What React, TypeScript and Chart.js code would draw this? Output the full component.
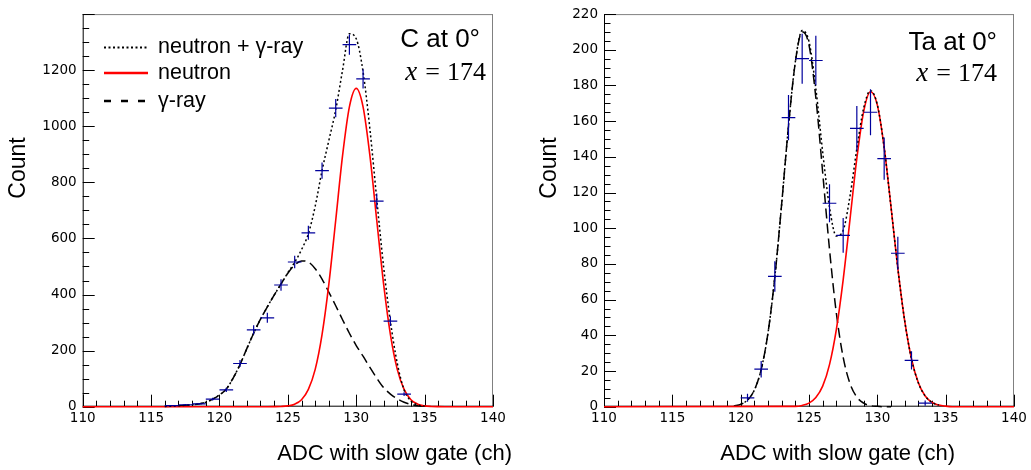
import React, { useEffect, useRef } from "react";
import { Chart, registerables } from "chart.js";
Chart.register(...registerables);

// ---------- data ----------
const X_MIN = 110;
const X_MAX = 140;

const legendLabels = ["neutron + γ-ray", "neutron", "γ-ray"];
const panelTitles = ["C at 0°", "Ta at 0°"];
const mathVar = "x";
const mathRest = ["174", "174"];
const xAxisTitle = "ADC with slow gate (ch)";
const yAxisTitle = "Count";

// Carbon target
const cBinCenters = [116.5, 117.5, 118.5, 119.5, 120.5, 121.5, 122.5, 123.5, 124.5, 125.5, 126.5, 127.5, 128.5, 129.5, 130.5, 131.5, 132.5, 133.5];
const cCounts = [4, 7, 10, 27, 60, 154, 274, 317, 434, 516, 620, 842, 1065, 1291, 1169, 733, 305, 45];

const cNeutronX = [110, 123.5, 124, 124.5, 125, 125.5, 126, 126.5, 127, 127.5, 128, 128.5, 129, 129.5, 130, 130.5, 131, 131.5, 132, 132.5, 133, 133.5, 134, 134.5, 135, 135.5, 136, 136.5, 140];
const cNeutronY = [0, 0, 0.2, 0.9, 3, 9, 25, 62, 133, 257, 438, 665, 895, 1069, 1135, 1069, 895, 665, 438, 257, 133, 62, 25, 9, 3, 0.9, 0.2, 0, 0];

const cGammaX = [116, 116.5, 117, 117.5, 118, 118.5, 119, 119.5, 120, 120.5, 121, 121.5, 122, 122.5, 123, 123.5, 124, 124.5, 125, 125.5, 126, 126.5, 127, 127.5, 128, 128.5, 129, 129.5, 130, 130.5, 131, 131.5, 132, 132.5, 133, 133.5, 134, 134.5, 135];
const cGammaY = [1, 2, 3, 5, 7, 10, 16, 27, 42, 63, 102, 150, 207, 262, 312, 356, 398, 438, 476, 505, 520, 516, 492, 455, 408, 360, 310, 262, 218, 180, 140, 102, 68, 45, 28, 16, 8, 3, 1];

const cSumX = cGammaX;
const cSumY = [1, 2, 3, 5, 7, 10, 16, 27, 42, 63, 102, 150, 207, 262, 312, 356, 398, 437, 478, 515, 560, 617, 715, 842, 950, 1058, 1200, 1330, 1312, 1194, 990, 740, 500, 304, 155, 60, 20, 6, 2];

// Tantalum target
const tBinCenters = [120.5, 121.5, 122.5, 123.5, 124.5, 125.5, 126.5, 127.5, 128.5, 129.5, 130.5, 131.5, 132.5, 133.5];
const tCounts = [5, 21, 73, 162, 195, 194, 114, 96, 156, 165, 139, 86, 26, 2];

const tNeutronX = [110, 124, 124.5, 125, 125.5, 126, 126.5, 127, 127.5, 128, 128.5, 129, 129.5, 130, 130.5, 131, 131.5, 132, 132.5, 133, 133.5, 134, 134.5, 135, 135.5, 140];
const tNeutronY = [0, 0.2, 0.7, 2.0, 5.1, 11.5, 23.6, 43.2, 71.1, 105.0, 139.1, 165.4, 176.5, 169.0, 145.3, 112.0, 77.5, 48.2, 26.8, 13.4, 6.0, 2.4, 0.9, 0.3, 0, 0];

const tGammaX = [119.5, 120, 120.5, 121, 121.5, 122, 122.5, 123, 123.5, 124, 124.5, 125, 125.5, 126, 126.5, 127, 127.5, 128, 128.5, 129, 129.5, 130, 130.5, 131];
const tGammaY = [0.4, 1.3, 3.7, 9.3, 20.8, 41.3, 72.7, 113.6, 157.3, 193.1, 210.1, 202.6, 173.2, 131.3, 88.2, 52.5, 27.7, 13.0, 5.4, 2.0, 0.6, 0.2, 0, 0];

const tSumX = [120, 120.5, 121, 121.5, 122, 122.5, 123, 123.5, 124, 124.5, 125, 125.5, 126, 126.5, 127, 127.5, 128, 128.5, 129, 129.5, 130, 130.5, 131, 131.5, 132, 132.5, 133, 133.5, 134, 134.5];
const tSumY = [1.3, 3.7, 9.3, 20.8, 41.3, 72.7, 113.6, 157.3, 193.3, 210.8, 204.6, 178.3, 142.8, 111.8, 95.7, 98.8, 118.0, 144.5, 167.4, 177.1, 169.2, 145.3, 112.0, 77.5, 48.2, 26.8, 13.4, 6.0, 2.4, 0.9];

// ---------- styles ----------
const SANS = "'Liberation Sans', Arial, sans-serif";
const SERIF = "'Liberation Serif', 'DejaVu Serif', serif";
const TICKFONT = "'DejaVu Sans', sans-serif";
const BLUE = "#00009c";
const RED = "#ff0000";
const DOT = [2, 2.5];
const DASH = [10, 5];

type PanelCfg = {
  id: string;
  canvasLeft: number;
  canvasWidth: number;
  plotLeft: number;
  plotRight: number;
  yMax: number;
  yStep: number;
  yMinor: number;
  bins: number[];
  counts: number[];
  nX: number[]; nY: number[];
  gX: number[]; gY: number[];
  sX: number[]; sY: number[];
  title: string;
  math: string;
  titleRight: number;
  titleBase: number;
  mathRight: number;
  mathBase: number;
  yTitleX: number;
  xTitleRight: number;
  legend: boolean;
};

const PLOT_TOP = 11.3;
const PLOT_BOTTOM = 406.7;
const H = 470;

const panels: PanelCfg[] = [
  {
    id: "c", canvasLeft: 0, canvasWidth: 515, plotLeft: 82.7, plotRight: 493,
    yMax: 1400, yStep: 200, yMinor: 50,
    bins: cBinCenters, counts: cCounts,
    nX: cNeutronX, nY: cNeutronY, gX: cGammaX, gY: cGammaY, sX: cSumX, sY: cSumY,
    title: panelTitles[0], math: mathRest[0],
    titleRight: 480, titleBase: 47, mathRight: 486, mathBase: 80,
    yTitleX: 17, xTitleRight: 512, legend: true,
  },
  {
    id: "t", canvasLeft: 515, canvasWidth: 516, plotLeft: 89, plotRight: 499,
    yMax: 220, yStep: 20, yMinor: 5,
    bins: tBinCenters, counts: tCounts,
    nX: tNeutronX, nY: tNeutronY, gX: tGammaX, gY: tGammaY, sX: tSumX, sY: tSumY,
    title: panelTitles[1], math: mathRest[1],
    titleRight: 482, titleBase: 50, mathRight: 482, mathBase: 81,
    yTitleX: 33, xTitleRight: 440, legend: false,
  },
];

function pts(xs: number[], ys: number[]) {
  return xs.map((x, i) => ({ x, y: ys[i] }));
}

function errorBarPoints(bins: number[], counts: number[]) {
  const out: { x: number; y: number | null }[] = [];
  bins.forEach((b, i) => {
    const c = counts[i];
    const e = Math.sqrt(c);
    out.push({ x: b - 0.5, y: c }, { x: b + 0.5, y: c }, { x: b + 0.5, y: null });
    out.push({ x: b, y: c - e }, { x: b, y: c + e }, { x: b, y: null });
  });
  return out;
}

function rootPlugin(p: PanelCfg) {
  return {
    id: "root_" + p.id,
    beforeDatasetsDraw(chart: any) {
      const { ctx, chartArea: a, scales } = chart;
      const xs = scales.x, ys = scales.y;
      ctx.save();
      ctx.lineWidth = 1;
      ctx.strokeStyle = "#808080";
      ctx.beginPath();
      ctx.moveTo(a.left, a.top + 0.5);
      ctx.lineTo(a.right, a.top + 0.5);
      ctx.moveTo(a.right - 0.5, a.top);
      ctx.lineTo(a.right - 0.5, a.bottom);
      ctx.stroke();
      ctx.strokeStyle = "#000";
      ctx.beginPath();
      ctx.moveTo(a.left + 0.5, a.top);
      ctx.lineTo(a.left + 0.5, a.bottom);
      ctx.moveTo(a.left, a.bottom - 0.5);
      ctx.lineTo(a.right, a.bottom - 0.5);
      // x ticks
      for (let v = X_MIN; v <= X_MAX + 1e-9; v += 1) {
        const px = Math.round(xs.getPixelForValue(v)) + 0.5;
        const len = v % 5 === 0 ? 12 : 6;
        ctx.moveTo(px, a.bottom);
        ctx.lineTo(px, a.bottom - len);
      }
      // y ticks
      for (let v = 0; v <= p.yMax + 1e-9; v += p.yMinor) {
        const py = Math.round(ys.getPixelForValue(v)) + 0.5;
        const len = v % p.yStep === 0 ? 12 : 6.5;
        ctx.moveTo(a.left, py);
        ctx.lineTo(a.left + len, py);
      }
      ctx.stroke();
      ctx.restore();
    },
    afterDraw(chart: any) {
      const { ctx } = chart;
      ctx.save();
      ctx.fillStyle = "#000";
      // panel title
      ctx.font = `26px ${SANS}`;
      ctx.textAlign = "right";
      ctx.textBaseline = "alphabetic";
      ctx.fillText(p.title, p.titleRight, p.titleBase);
      // math line
      ctx.font = `26px ${SERIF}`;
      const wNum = ctx.measureText(p.math).width;
      ctx.fillText(p.math, p.mathRight, p.mathBase);
      const eqRight = p.mathRight - wNum - 7;
      ctx.fillText("=", eqRight, p.mathBase);
      const wEq = ctx.measureText("=").width;
      ctx.font = `italic 27px ${SERIF}`;
      ctx.fillText(mathVar, eqRight - wEq - 8, p.mathBase);
      // axis titles
      ctx.font = `22px ${SANS}`;
      ctx.textAlign = "right";
      ctx.fillText(xAxisTitle, p.xTitleRight, 460);
      ctx.save();
      ctx.translate(p.yTitleX + 8, 168);
      ctx.rotate(-Math.PI / 2);
      ctx.font = `23px ${SANS}`;
      ctx.textAlign = "center";
      ctx.fillText(yAxisTitle, 0, 0);
      ctx.restore();
      // legend
      if (p.legend) {
        const rows = [47.5, 73, 101];
        const styles = [
          { color: "#000", dash: DOT, w: 2 },
          { color: RED, dash: [], w: 2.5 },
          { color: "#000", dash: [7, 10], w: 2.5 },
        ];
        rows.forEach((y, i) => {
          ctx.beginPath();
          ctx.strokeStyle = styles[i].color;
          ctx.lineWidth = styles[i].w;
          ctx.setLineDash(styles[i].dash);
          ctx.moveTo(104, y);
          ctx.lineTo(148, y);
          ctx.stroke();
          ctx.setLineDash([]);
          ctx.font = `21.5px ${SANS}`;
          ctx.textAlign = "left";
          ctx.textBaseline = "middle";
          ctx.fillStyle = "#000";
          ctx.fillText(legendLabels[i], 158, y);
        });
      }
      ctx.restore();
    },
  };
}

function buildConfig(p: PanelCfg): any {
  return {
    type: "line",
    data: {
      datasets: [
        {
          data: errorBarPoints(p.bins, p.counts),
          borderColor: BLUE, borderWidth: 1.2, pointRadius: 0, tension: 0,
          spanGaps: false, clip: false,
        },
        {
          data: pts(p.sX, p.sY),
          borderColor: "#000", borderWidth: 1.5, borderDash: DOT, pointRadius: 0,
          cubicInterpolationMode: "monotone", clip: false,
        },
        {
          data: pts(p.nX, p.nY),
          borderColor: RED, borderWidth: 1.6, pointRadius: 0,
          cubicInterpolationMode: "monotone", clip: false,
        },
        {
          data: pts(p.gX, p.gY),
          borderColor: "#000", borderWidth: 1.5, borderDash: DASH, pointRadius: 0,
          cubicInterpolationMode: "monotone", clip: false,
        },
      ],
    },
    options: {
      responsive: false,
      animation: false,
      events: [],
      layout: { padding: { top: PLOT_TOP, right: p.canvasWidth - p.plotRight, left: 0, bottom: 0 } },
      plugins: { legend: { display: false }, tooltip: { enabled: false }, title: { display: false } },
      scales: {
        x: {
          type: "linear", min: X_MIN, max: X_MAX,
          grid: { display: false, drawTicks: false },
          border: { display: false },
          ticks: {
            stepSize: 5, autoSkip: false, maxRotation: 0, padding: 4,
            color: "#000", font: { family: TICKFONT, size: 13.5 },
          },
          afterFit: (s: any) => { s.height = H - PLOT_BOTTOM; },
        },
        y: {
          type: "linear", min: 0, max: p.yMax,
          grid: { display: false, drawTicks: false },
          border: { display: false },
          ticks: {
            stepSize: p.yStep, autoSkip: false, padding: 6,
            color: "#000", font: { family: TICKFONT, size: 13.5 },
            callback: (v: number) => (p.yMax === 1400 && v === 1400 ? "" : String(v)),
          },
          afterFit: (s: any) => { s.width = p.plotLeft; },
        },
      },
    },
    plugins: [rootPlugin(p)],
  };
}

function Panel({ p }: { p: PanelCfg }) {
  const ref = useRef<HTMLCanvasElement | null>(null);
  useEffect(() => {
    if (!ref.current) return;
    const chart = new Chart(ref.current, buildConfig(p));
    return () => chart.destroy();
  }, [p]);
  return (
    <canvas
      ref={ref}
      width={p.canvasWidth}
      height={H}
      style={{ position: "absolute", left: p.canvasLeft, top: 0, width: p.canvasWidth, height: H }}
    />
  );
}

export default function App() {
  return (
    <div style={{ position: "fixed", left: 0, top: 0, width: 1031, height: H, background: "#fff" }}>
      {panels.map((p) => (
        <Panel key={p.id} p={p} />
      ))}
    </div>
  );
}
